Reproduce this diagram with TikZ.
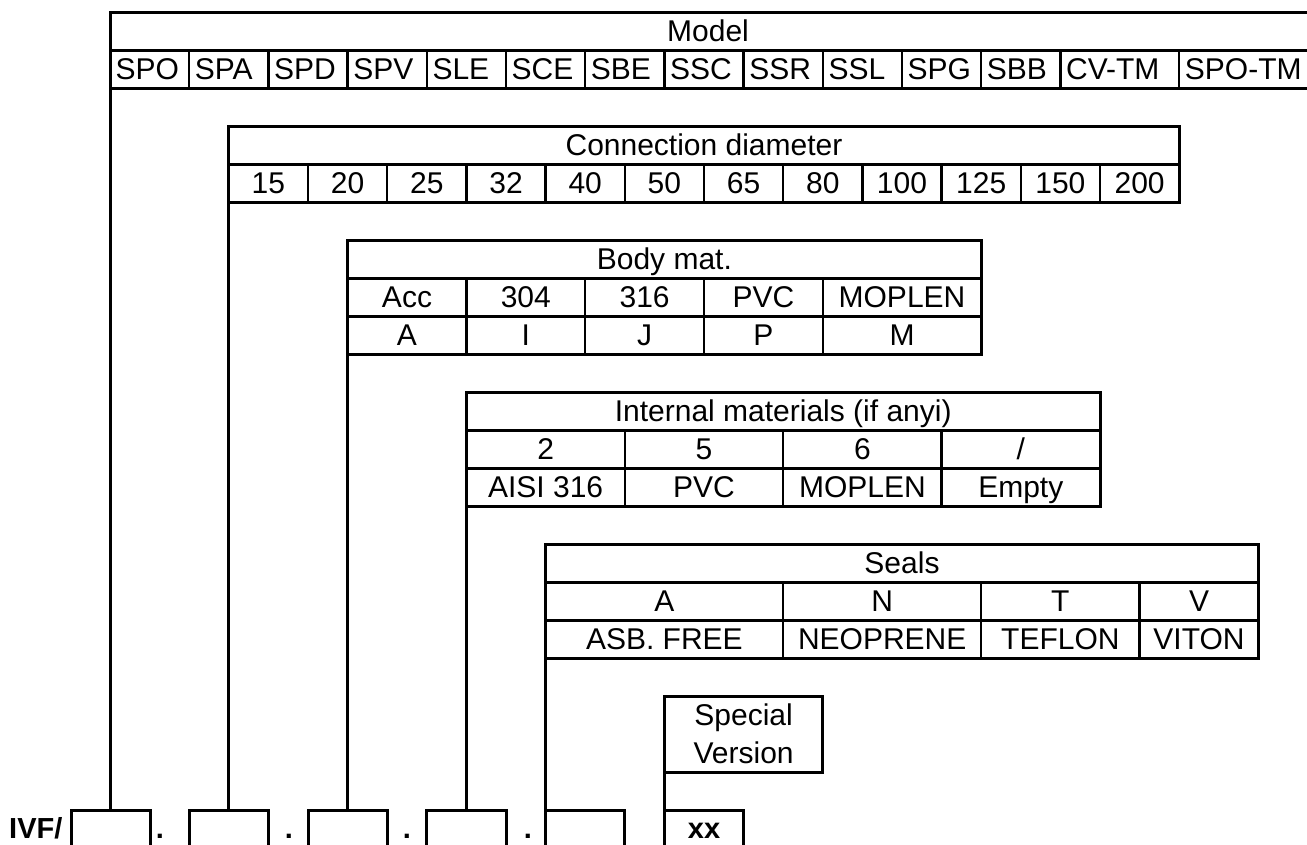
\documentclass[tikz,border=0pt]{standalone}
\usepackage{fontspec}
\setmainfont{Liberation Sans}
\begin{document}
\begin{tikzpicture}[x=1pt,y=-1pt,
  outer/.style={line width=3pt,line cap=rect},
  inner/.style={line width=2.4pt},
  conn/.style={line width=3pt},
  txt/.style={anchor=base,inner sep=0pt,font=\fontsize{30}{35}\selectfont},
  ltxt/.style={anchor=base west,inner sep=0pt,font=\fontsize{30}{35}\selectfont},
  btxt/.style={anchor=base,inner sep=0pt,font=\fontsize{29}{34}\selectfont\bfseries}]
\useasboundingbox (0,0) rectangle (1307,844);
\clip (0,0) rectangle (1307,844);

% ---------- Model table ----------
\draw[outer] (110,12) -- (1312,12);
\draw[outer] (110,50) -- (1312,50);
\draw[outer] (110,88) -- (1312,88);
\foreach \x in {189.2,268.4,347.6,426.8,506,585.2,664.4,743.6,822.8,902,981.2,1060.4,1179.2}
  \draw[inner] (\x,50) -- (\x,88);
\node[txt] (model) at (708,41.5) {Model};
\foreach \x/\t/\n in {110/SPO/m1,189.2/SPA/m2,268.4/SPD/m3,347.6/SPV/m4,426.8/SLE/m5,506/SCE/m6,585.2/SBE/m7,664.4/SSC/m8,743.6/SSR/m9,822.8/SSL/m10,902/SPG/m11,981.2/SBB/m12,1060.4/CV-TM/m13,1179.2/SPO-TM/m14}
  \node[ltxt] (\n) at (\x+5.5,79.8) {\t};

% ---------- Connection diameter ----------
\draw[outer] (228.8,126) rectangle (1179.2,202);
\draw[outer] (228.8,164) -- (1179.2,164);
\foreach \x in {308,387.2,466.4,545.6,624.8,704,783.2,862.4,941.6,1020.8,1100}
  \draw[inner] (\x,164) -- (\x,202);
\node[txt] (cd) at (704,155.8) {Connection diameter};
\foreach \x/\t in {268.4/15,347.6/20,426.8/25,506/32,585.2/40,664.4/50,743.6/65,822.8/80,902/100,981.2/125,1060.4/150,1139.6/200}
  \node[txt] (c\t) at (\x,193.8) {\t};

% ---------- Body mat. ----------
\draw[outer] (347.6,240) rectangle (981.2,354);
\draw[outer] (347.6,278) -- (981.2,278);
\draw[outer] (347.6,316) -- (981.2,316);
\foreach \x in {466.4,585.2,704,822.8}
  \draw[inner] (\x,278) -- (\x,354);
\node[txt] (bm) at (664.4,269.8) {Body mat.};
\foreach \x/\t/\c/\n in {407/Acc/A/b1,525.8/304/I/b2,644.6/316/J/b3,763.4/PVC/P/b4,902/MOPLEN/M/b5}{
  \node[txt] (\n t) at (\x,307.8) {\t};
  \node[txt] (\n c) at (\x,345.8) {\c};
}

% ---------- Internal materials ----------
\draw[outer] (466.4,392) rectangle (1100,506);
\draw[outer] (466.4,430) -- (1100,430);
\draw[outer] (466.4,468) -- (1100,468);
\foreach \x in {624.8,783.2,941.6}
  \draw[inner] (\x,430) -- (\x,506);
\node[txt] (im) at (783.2,421.8) {Internal materials (if anyi)};
\foreach \x/\c/\t/\n in {545.6/2/AISI 316/i1,704/5/PVC/i2,862.4/6/MOPLEN/i3,1020.8/{/}/Empty/i4}{
  \node[txt] (\n c) at (\x,459.8) {\c};
  \node[txt] (\n t) at (\x,497.8) {\t};
}

% ---------- Seals ----------
\draw[outer] (545.6,544) rectangle (1258.4,658);
\draw[outer] (545.6,582) -- (1258.4,582);
\draw[outer] (545.6,620) -- (1258.4,620);
\foreach \x in {783.2,981.2,1139.6}
  \draw[inner] (\x,582) -- (\x,658);
\node[txt] (se) at (902,573.8) {Seals};
\foreach \x/\c/\t/\n in {664.4/A/ASB. FREE/s1,882.2/N/NEOPRENE/s2,1060.4/T/TEFLON/s3,1199/V/VITON/s4}{
  \node[txt] (\n c) at (\x,611.8) {\c};
  \node[txt] (\n t) at (\x,649.8) {\t};
}

% ---------- Special version ----------
\draw[outer] (664.4,696) rectangle (822.8,772);
\node[txt] (sp1) at (743.6,725.8) {Special};
\node[txt] (sp2) at (743.6,763.8) {Version};

% ---------- code boxes ----------
\foreach \a/\b in {71/150,189.2/268.4,308/387.2,426.8/506,545.6/624.8,664.4/743.6}
  \draw[outer] (\a,850) -- (\a,810) -- (\b,810) -- (\b,850);
\node[btxt,anchor=base west] (ivf) at (9,838) {IVF/};
\node[btxt] (d1) at (160,838) {.};
\node[btxt] (d2) at (289,838) {.};
\node[btxt] (d3) at (407,838) {.};
\node[btxt] (d4) at (528,838) {.};
\node[btxt] (xx) at (704,838) {xx};

% ---------- connectors ----------
\coordinate (mt) at (110,12);      \coordinate (k1) at (110,810);
\coordinate (ct) at (228.8,126);   \coordinate (k2) at (228.8,810);
\coordinate (bt) at (347.6,240);   \coordinate (k3) at (347.6,810);
\coordinate (it) at (466.4,392);   \coordinate (k4) at (466.4,810);
\coordinate (st) at (545.6,544);   \coordinate (k5) at (545.6,810);
\coordinate (vt) at (664.4,696);   \coordinate (k6) at (664.4,810);
\foreach \a/\b in {mt/k1,ct/k2,bt/k3,it/k4,st/k5,vt/k6}
  \draw[conn] (\a) -- (\b);
\end{tikzpicture}
\end{document}
